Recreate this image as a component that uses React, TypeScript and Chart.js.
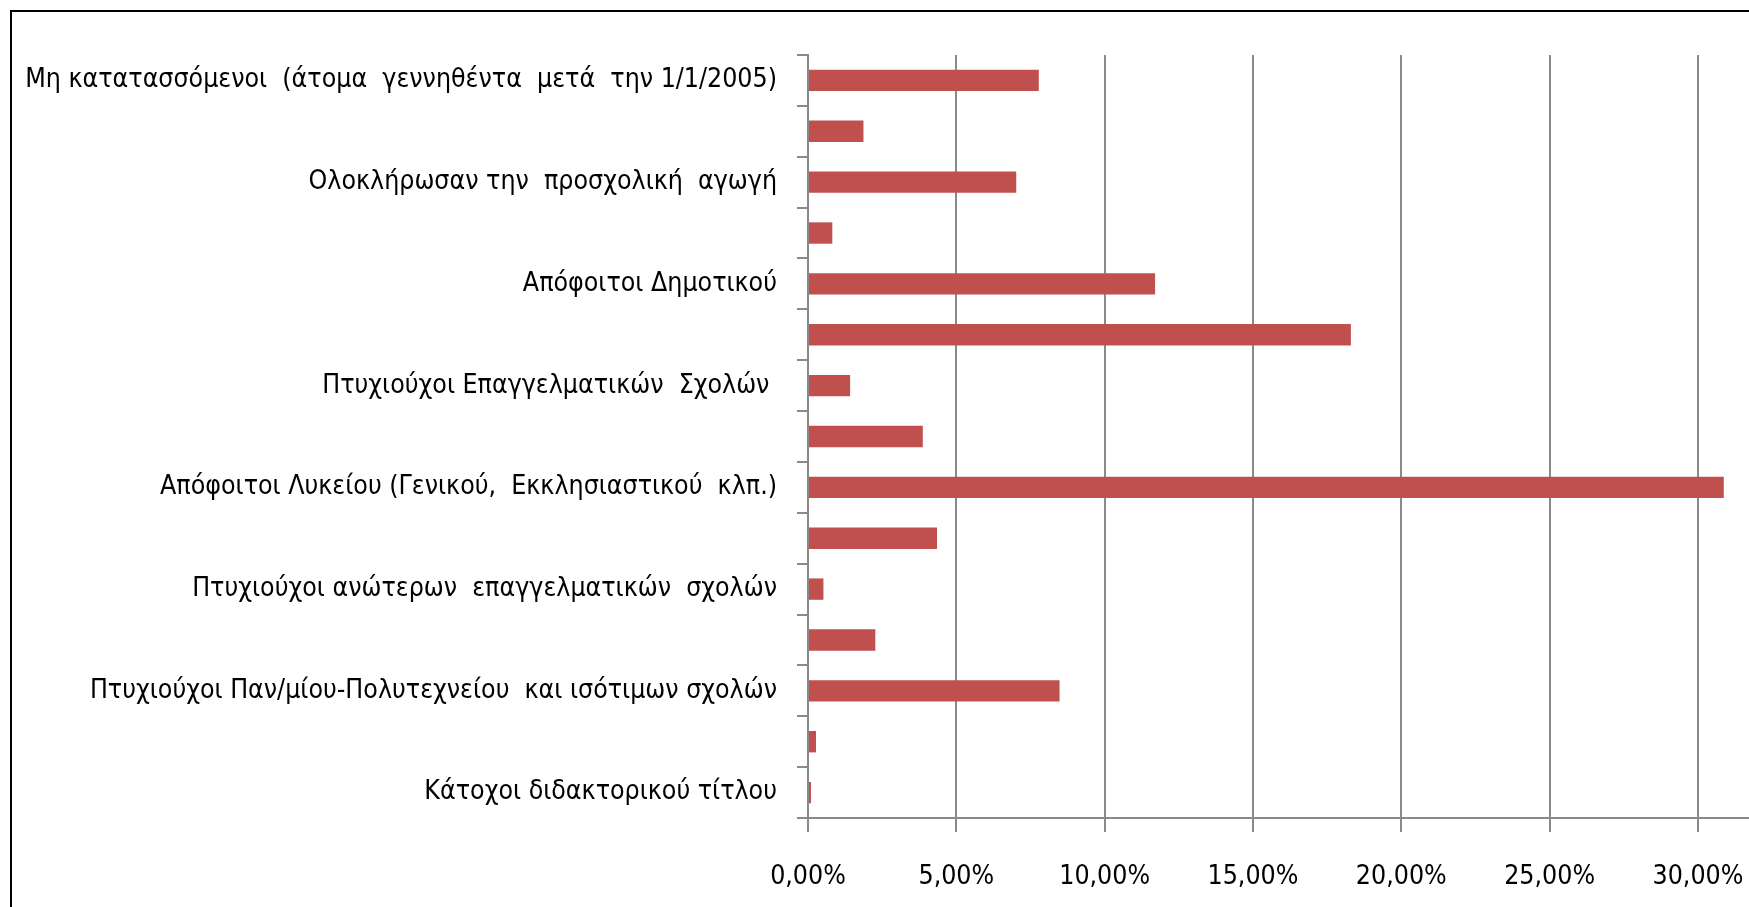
import React, { useEffect, useRef } from "react";
import { Chart, registerables } from "chart.js";

Chart.register(...registerables);

const categories: string[] = [
  "Μη κατατασσόμενοι  (άτομα  γεννηθέντα  μετά  την 1/1/2005)",
  "",
  "Ολοκλήρωσαν την  προσχολική  αγωγή",
  "",
  "Απόφοιτοι Δημοτικού",
  "",
  "Πτυχιούχοι Επαγγελματικών  Σχολών ",
  "",
  "Απόφοιτοι Λυκείου (Γενικού,  Εκκλησιαστικού  κλπ.)",
  "",
  "Πτυχιούχοι ανώτερων  επαγγελματικών  σχολών",
  "",
  "Πτυχιούχοι Παν/μίου-Πολυτεχνείου  και ισότιμων σχολών",
  "",
  "Κάτοχοι διδακτορικού τίτλου",
];

const shares: number[] = [
  7.78, 1.87, 7.02, 0.82, 11.7, 18.3, 1.42, 3.87, 30.87, 4.35, 0.52, 2.27, 8.48, 0.27, 0.1,
];

const xTicks: number[] = [0, 5, 10, 15, 20, 25, 30];

const FONT = "'Liberation Sans Narrow', 'DejaVu Sans Condensed', 'Roboto Condensed', sans-serif";

export default function App() {
  const ref = useRef<HTMLCanvasElement | null>(null);

  useEffect(() => {
    if (!ref.current) return;
    const chart = new Chart(ref.current, {
      type: "bar",
      data: {
        labels: categories,
        datasets: [
          {
            data: shares,
            backgroundColor: "#C0504D",
            borderWidth: 0,
            categoryPercentage: 1,
            barPercentage: 0.42,
          },
        ],
      },
      options: {
        indexAxis: "y",
        animation: false,
        responsive: false,
        maintainAspectRatio: false,
        layout: { padding: { top: 55, left: 0, right: 0, bottom: 0 } },
        plugins: {
          legend: { display: false },
          tooltip: { enabled: false },
          title: { display: false },
        },
        scales: {
          x: {
            type: "linear",
            min: 0,
            max: 31.72,
            afterBuildTicks: (scale: any) => {
              scale.ticks = xTicks.map((v) => ({ value: v }));
            },
            afterFit: (scale: any) => {
              scale.height = 89;
              scale.paddingLeft = 0;
              scale.paddingRight = 0;
            },
            ticks: {
              includeBounds: false,
              stepSize: 5,
              autoSkip: false,
              maxRotation: 0,
              padding: 29,
              color: "#000",
              font: { family: FONT, size: 26.5 },
              callback: (v: any) => Number(v).toFixed(2).replace(".", ",") + "%",
            },
            grid: {
              color: "#8a8a8a",
              lineWidth: 2,
              drawTicks: true,
              tickLength: 14,
              tickColor: "#8a8a8a",
            },
            border: { display: true, color: "#8a8a8a", width: 2 },
          },
          y: {
            type: "category",
            afterFit: (scale: any) => {
              scale.width = 808;
              scale.paddingTop = 0;
              scale.paddingBottom = 0;
            },
            ticks: {
              autoSkip: false,
              padding: 20,
              color: "#000",
              font: { family: FONT, size: 26.5 },
            },
            grid: {
              offset: true,
              drawOnChartArea: false,
              drawTicks: true,
              tickLength: 11,
              color: "#8a8a8a",
              lineWidth: 2,
            },
            border: { display: true, color: "#8a8a8a", width: 2 },
          },
        },
      },
    });
    return () => chart.destroy();
  }, []);

  return (
    <div
      style={{
        position: "fixed",
        left: 0,
        top: 0,
        width: 1749,
        height: 907,
        overflow: "hidden",
        background: "#fff",
      }}
    >
      <canvas ref={ref} width={1749} height={907} style={{ position: "absolute", left: 0, top: 0 }} />
      <div
        style={{
          position: "absolute",
          left: 10,
          top: 10,
          width: 2200,
          height: 2200,
          border: "2.5px solid #000",
          boxSizing: "border-box",
          pointerEvents: "none",
        }}
      />
    </div>
  );
}
